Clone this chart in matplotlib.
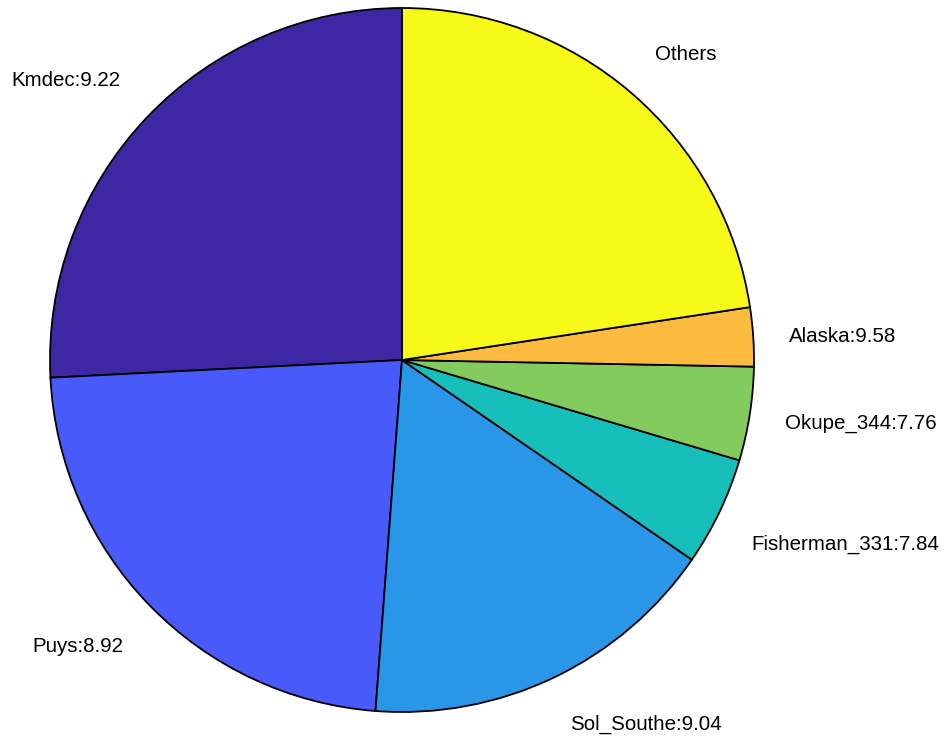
import matplotlib
matplotlib.use('Agg')
import matplotlib.pyplot as plt

# Datos del grafico (porcentajes)
nombres = ['Kmdec', 'Puys', 'Sol_Southe', 'Fisherman_331', 'Okupe_344', 'Alaska', 'Others']
valores_etiqueta = ['9.22', '8.92', '9.04', '7.84', '7.76', '9.58', None]
porcentajes = [25.8, 23.0, 16.6, 5.0, 4.3, 2.7, 22.6]
colores = ['#3d27a3', '#485af9', '#2996e8', '#16bfba', '#82cb5c', '#fcbb3e', '#f7f918']

# Posiciones de las etiquetas (en unidades del radio)
pos_etiquetas = [(-0.955, 0.795), (-0.922, -0.815), (0.693, -1.034),
                 (1.260, -0.525), (1.304, -0.179), (1.251, 0.068), (0.807, 0.869)]

plt.rcParams['font.family'] = ['Liberation Sans', 'DejaVu Sans']

fig = plt.figure(figsize=(9.49, 7.42), dpi=100)
ax = fig.add_axes([0, 0, 1, 1])

ax.pie(porcentajes, colors=colores, startangle=90, counterclock=True,
       wedgeprops={'edgecolor': 'black', 'linewidth': 1.3})

for nombre, val, (x, y) in zip(nombres, valores_etiqueta, pos_etiquetas):
    texto = nombre if val is None else '{}:{}'.format(nombre, val)
    ax.text(x, y, texto, ha='center', va='center', fontsize=14.8)

ax.set_xlim(-402 / 352, (949 - 402) / 352)
ax.set_ylim((360 - 742) / 352, 360 / 352)
ax.set_aspect('auto')
ax.axis('off')

fig.savefig('out.png', dpi=100)
